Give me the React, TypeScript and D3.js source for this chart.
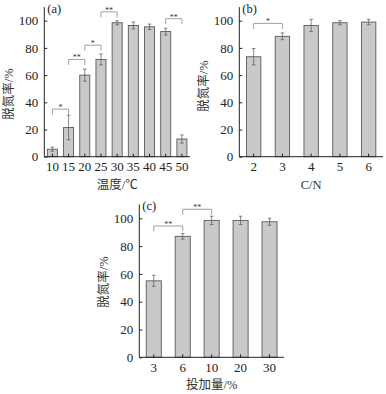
import { useEffect, useRef } from 'react';
import * as d3 from 'd3';

// (a) temperature
const tempCats = ['10', '15', '20', '25', '30', '35', '40', '45', '50'];
const tempVals = [5.5, 21.5, 60, 71.5, 98.5, 96.5, 95.5, 92, 13];
const tempErr = [1.5, 9, 4.5, 4, 1.5, 2.5, 2, 2.5, 3];
const tempSig = [
  { from: '10', to: '15', at: 35, mark: '*' },
  { from: '15', to: '20', at: 71.5, mark: '**' },
  { from: '20', to: '25', at: 82, mark: '*' },
  { from: '25', to: '30', at: 106.5, mark: '**' },
  { from: '45', to: '50', at: 101.5, mark: '**' },
];

// (b) C/N
const cnCats = ['2', '3', '4', '5', '6'];
const cnVals = [73.5, 88.5, 96.5, 98.5, 99];
const cnErr = [6, 2.5, 4.5, 1.5, 2];
const cnSig = [{ from: '2', to: '3', at: 98, mark: '*' }];

// (c) dosage
const doseCats = ['3', '6', '10', '20', '30'];
const doseVals = [55, 87, 98.5, 98.5, 97.5];
const doseErr = [4, 2, 3, 3, 2.5];
const doseSig = [
  { from: '3', to: '6', at: 94.5, mark: '**' },
  { from: '6', to: '10', at: 106.5, mark: '**' },
];

const yTicks = [0, 20, 40, 60, 80, 100];

const serif = 'Liberation Serif, Noto Sans CJK SC';

const panels = [
  { tag: '(a)', cats: tempCats, vals: tempVals, err: tempErr, sig: tempSig, xTitle: '温度/℃',
    x0: 44.3, x1: 190, y0: 156.7, pad: 0.38, titleY: 94 },
  { tag: '(b)', cats: cnCats, vals: cnVals, err: cnErr, sig: cnSig, xTitle: 'C/N',
    x0: 239.3, x1: 383, y0: 156.7, pad: 0.5, titleY: 86 },
  { tag: '(c)', cats: doseCats, vals: doseVals, err: doseErr, sig: doseSig, xTitle: '投加量/%',
    x0: 139.3, x1: 284, y0: 357.3, pad: 0.48, titleY: 282 },
];

const App = () => {
  const svgRef = useRef(null);

  useEffect(() => {
    const svg = d3.select(svgRef.current);
    svg.selectAll('*').remove();

    panels.forEach((p) => {
      const unit = p.tag === '(c)' ? 1.39 : 1.36;
      const y = d3.scaleLinear().domain([0, 110]).range([p.y0, p.y0 - 110 * unit]);
      const x = d3.scaleBand().domain(p.cats).range([p.x0, p.x1]).paddingInner(p.pad).paddingOuter(p.pad / 2);
      const cx = (c) => x(c) + x.bandwidth() / 2;
      const g = svg.append('g');

      // bars
      g.selectAll('.bar')
        .data(p.vals)
        .enter()
        .append('rect')
        .attr('x', (d, i) => x(p.cats[i]))
        .attr('y', d => y(d))
        .attr('width', x.bandwidth())
        .attr('height', d => y(0) - y(d))
        .attr('fill', '#c9c9c9')
        .attr('stroke', '#5a5a5a')
        .attr('stroke-width', 0.9);

      // error bars
      p.vals.forEach((v, i) => {
        const c = cx(p.cats[i]);
        const e = p.err[i];
        g.append('line').attr('x1', c).attr('x2', c).attr('y1', y(v + e)).attr('y2', y(v - e))
          .attr('stroke', '#555').attr('stroke-width', 0.7);
        [v + e, v - e].forEach(t => {
          g.append('line').attr('x1', c - 1.8).attr('x2', c + 1.8).attr('y1', y(t)).attr('y2', y(t))
            .attr('stroke', '#555').attr('stroke-width', 0.7);
        });
      });

      // significance brackets
      p.sig.forEach(s => {
        const a = cx(s.from);
        const b = cx(s.to);
        const yy = y(s.at);
        g.append('path')
          .attr('d', `M${a},${yy + 5.5}V${yy}H${b}V${yy + 5.5}`)
          .attr('fill', 'none')
          .attr('stroke', '#8a8a8a')
          .attr('stroke-width', 0.8);
        g.append('text')
          .attr('x', (a + b) / 2)
          .attr('y', yy + 1)
          .attr('text-anchor', 'middle')
          .attr('font-family', serif)
          .attr('font-size', 8)
          .attr('fill', '#333')
          .text(s.mark);
      });

      // y axis
      const yAxis = g.append('g')
        .attr('transform', `translate(${p.x0},0)`)
        .call(d3.axisLeft(y).tickValues(yTicks).tickSize(-3).tickPadding(6));
      yAxis.select('.domain').attr('stroke', '#222').attr('d', `M0,${y(0)}V${y(110)}`);
      yAxis.selectAll('.tick line').attr('stroke', '#222');
      yAxis.selectAll('text').attr('font-family', serif).attr('font-size', 13).attr('fill', '#222');

      // x axis
      const xAxis = g.append('g')
        .attr('transform', `translate(0,${p.y0})`)
        .call(d3.axisBottom(x).tickSize(-3).tickPadding(5));
      xAxis.select('.domain').attr('stroke', '#222').attr('d', `M${p.x0},0H${p.x1}`);
      xAxis.selectAll('.tick line').attr('stroke', '#222');
      xAxis.selectAll('text').attr('font-family', serif).attr('font-size', 13).attr('fill', '#222');

      // panel tag
      g.append('text')
        .attr('x', p.x0 + 3)
        .attr('y', y(110) + 5.5)
        .attr('font-family', serif)
        .attr('font-size', 12.5)
        .attr('fill', '#222')
        .text(p.tag);

      // axis titles
      g.append('text')
        .attr('x', (p.x0 + p.x1) / 2)
        .attr('y', p.y0 + 32)
        .attr('text-anchor', 'middle')
        .attr('font-family', serif)
        .attr('font-size', 12.5)
        .attr('fill', '#333')
        .text(p.xTitle);

      g.append('text')
        .attr('transform', `translate(${p.x0 - 31},${p.titleY}) rotate(-90)`)
        .attr('text-anchor', 'middle')
        .attr('font-family', serif)
        .attr('font-size', 12.5)
        .attr('fill', '#333')
        .text('脱氮率/%');
    });
  }, []);

  return (
    <svg ref={svgRef} width={386} height={394} style={{ position: 'absolute', left: 0, top: 0, background: '#fff' }}></svg>
  );
};

export default App;
